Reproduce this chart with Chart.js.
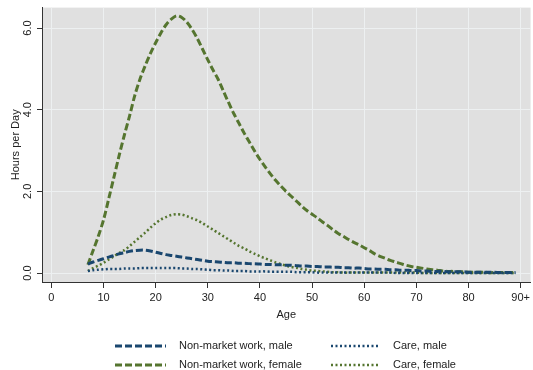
<!DOCTYPE html>
<html>
<head>
<meta charset="utf-8">
<script src="https://cdn.jsdelivr.net/npm/chart.js@4.4.1/dist/chart.umd.min.js"></script>
<style>
    html, body { margin: 0; padding: 0; background: #fff; }
    #contenedor { width: 533px; height: 370px; }
</style>
</head>
<body>
<div id="contenedor"><canvas id="grafico" width="533" height="370"></canvas></div>
<script>
// Edades (eje X)
var edades = [7, 8, 9, 10, 11, 12, 13, 14, 15, 16, 17, 18, 19, 20, 21, 22, 23, 24, 25, 26,
    27, 28, 29, 30, 31, 32, 33, 34, 35, 36, 37, 38, 39, 40, 41, 42, 43, 44, 45, 46,
    47, 48, 49, 50, 51, 52, 53, 54, 55, 56, 57, 58, 59, 60, 61, 62, 63, 64, 65, 66,
    67, 68, 69, 70, 71, 72, 73, 74, 75, 76, 77, 78, 79, 80, 81, 82, 83, 84, 85, 86,
    87, 88, 89];

var noMercadoHombre = [0.22, 0.27, 0.31, 0.35, 0.39, 0.43, 0.47, 0.50, 0.53, 0.55, 0.56, 0.56, 0.54, 0.51, 0.48, 0.45, 0.43, 0.41, 0.39, 0.37,
    0.35, 0.33, 0.31, 0.29, 0.28, 0.27, 0.26, 0.25, 0.25, 0.24, 0.24, 0.23, 0.23, 0.22, 0.21, 0.21, 0.20, 0.20, 0.19, 0.19,
    0.18, 0.17, 0.17, 0.16, 0.16, 0.15, 0.15, 0.14, 0.14, 0.13, 0.13, 0.12, 0.12, 0.11, 0.10, 0.10, 0.09, 0.09, 0.08, 0.08,
    0.07, 0.07, 0.06, 0.06, 0.05, 0.05, 0.04, 0.04, 0.04, 0.03, 0.03, 0.03, 0.03, 0.02, 0.02, 0.02, 0.02, 0.02, 0.02, 0.01,
    0.01, 0.01, 0.01];

var cuidadoHombre = [0.05, 0.07, 0.08, 0.09, 0.10, 0.10, 0.10, 0.11, 0.11, 0.11, 0.12, 0.12, 0.12, 0.12, 0.12, 0.12, 0.12, 0.12, 0.11, 0.11,
    0.10, 0.10, 0.09, 0.08, 0.07, 0.07, 0.06, 0.06, 0.05, 0.05, 0.05, 0.04, 0.04, 0.04, 0.04, 0.03, 0.03, 0.03, 0.03, 0.03,
    0.02, 0.02, 0.02, 0.02, 0.01, 0.01, 0.01, 0.01, 0.01, 0.01, 0.01, 0.01, 0.01, 0.01, 0.01, 0.01, 0.01, 0.01, 0.01, 0.00,
    0.00, 0.00, 0.00, 0.00, 0.00, 0.00, 0.00, 0.00, 0.00, 0.00, 0.00, 0.00, 0.00, 0.00, 0.00, 0.00, 0.00, 0.00, 0.00, 0.00,
    0.00, 0.00, 0.00];

var noMercadoMujer = [0.20, 0.55, 0.90, 1.30, 1.82, 2.35, 2.88, 3.38, 3.85, 4.35, 4.75, 5.08, 5.38, 5.64, 5.88, 6.08, 6.22, 6.30, 6.26, 6.14,
    5.96, 5.74, 5.48, 5.22, 4.97, 4.74, 4.45, 4.17, 3.90, 3.66, 3.42, 3.20, 2.98, 2.78, 2.60, 2.43, 2.27, 2.13, 2.00, 1.88,
    1.76, 1.64, 1.53, 1.44, 1.35, 1.25, 1.16, 1.06, 0.97, 0.90, 0.82, 0.75, 0.69, 0.62, 0.55, 0.47, 0.41, 0.36, 0.31, 0.27,
    0.23, 0.19, 0.16, 0.14, 0.12, 0.10, 0.08, 0.07, 0.05, 0.04, 0.04, 0.03, 0.03, 0.02, 0.02, 0.02, 0.02, 0.01, 0.01, 0.01,
    0.01, 0.01, 0.01];

var cuidadoMujer = [0.05, 0.12, 0.18, 0.25, 0.33, 0.41, 0.49, 0.56, 0.66, 0.77, 0.88, 0.99, 1.11, 1.22, 1.31, 1.37, 1.42, 1.44, 1.43, 1.39,
    1.34, 1.29, 1.22, 1.14, 1.06, 0.98, 0.90, 0.82, 0.74, 0.66, 0.60, 0.53, 0.47, 0.41, 0.36, 0.31, 0.26, 0.22, 0.18, 0.15,
    0.13, 0.10, 0.08, 0.06, 0.05, 0.04, 0.03, 0.02, 0.02, 0.01, 0.01, 0.01, 0.01, 0.01, 0.01, 0.01, 0.01, 0.01, 0.01, 0.01,
    0.01, 0.01, 0.01, 0.01, 0.00, 0.00, 0.00, 0.00, 0.00, 0.00, 0.00, 0.00, 0.00, 0.00, 0.00, 0.00, 0.00, 0.00, 0.00, 0.00,
    0.00, 0.00, 0.00];

var ticksX = [0, 10, 20, 30, 40, 50, 60, 70, 80, 90];
var etiquetasX = ['0', '10', '20', '30', '40', '50', '60', '70', '80', '90+'];
var ticksY = [0, 2, 4, 6];
var etiquetasY = ['0.0', '2.0', '4.0', '6.0'];

var azul = '#1a476f';
var verde = '#55752f';

function puntos(valores) {
    return edades.map(function(edad, i) { return { x: edad, y: valores[i] }; });
}

// fondo gris del area de dibujo
var fondoGris = {
    id: 'fondoGris',
    beforeDraw: function(chart) {
        var a = chart.chartArea;
        var ctx = chart.ctx;
        ctx.save();
        ctx.fillStyle = '#e0e0e0';
        ctx.fillRect(a.left, a.top, a.right - a.left, a.bottom - a.top);
        ctx.restore();
    }
};

// leyenda en dos columnas, estilo Stata
var leyenda = {
    id: 'leyenda',
    afterDraw: function(chart) {
        var ctx = chart.ctx;
        var sitios = [[115, 166, 179, 346], [331, 378, 393, 346], [115, 166, 179, 365], [331, 378, 393, 365]];
        chart.data.datasets.forEach(function(ds, i) {
            var s = sitios[i];
            ctx.save();
            ctx.strokeStyle = ds.borderColor;
            ctx.lineWidth = ds.borderWidth;
            ctx.setLineDash(ds.borderDash);
            ctx.beginPath();
            ctx.moveTo(s[0], s[3]);
            ctx.lineTo(s[1], s[3]);
            ctx.stroke();
            ctx.setLineDash([]);
            ctx.fillStyle = '#222';
            ctx.font = '11px "Liberation Sans", Arial, sans-serif';
            ctx.textBaseline = 'middle';
            ctx.fillText(ds.label, s[2], s[3]);
            ctx.restore();
        });
    }
};

Chart.defaults.font.family = '"Liberation Sans", Arial, sans-serif';
Chart.defaults.font.size = 11;
Chart.defaults.color = '#222';

new Chart(document.getElementById('grafico'), {
    type: 'line',
    data: {
        datasets: [
            { label: 'Non-market work, male', data: puntos(noMercadoHombre), borderColor: azul, borderWidth: 3, borderDash: [7, 3] },
            { label: 'Care, male', data: puntos(cuidadoHombre), borderColor: azul, borderWidth: 2.5, borderDash: [2, 2.5] },
            { label: 'Non-market work, female', data: puntos(noMercadoMujer), borderColor: verde, borderWidth: 3, borderDash: [7, 3] },
            { label: 'Care, female', data: puntos(cuidadoMujer), borderColor: verde, borderWidth: 2.5, borderDash: [2, 2.5] }
        ]
    },
    options: {
        responsive: false,
        animation: false,
        layout: { padding: { top: 7, left: 0, right: 0, bottom: 0 } },
        elements: {
            point: { radius: 0 },
            line: { tension: 0.3, fill: false }
        },
        plugins: {
            legend: { display: false },
            tooltip: { enabled: false }
        },
        scales: {
            x: {
                type: 'linear',
                min: -1.8,
                max: 91.9,
                afterBuildTicks: function(s) { s.ticks = ticksX.map(function(v) { return { value: v }; }); },
                afterFit: function(s) { s.height = 88; },
                ticks: {
                    padding: 3,
                    maxRotation: 0,
                    autoSkip: false,
                    callback: function(v) { return etiquetasX[ticksX.indexOf(v)]; }
                },
                grid: { color: '#edf0f1', tickColor: '#333', tickLength: 6 },
                border: { color: '#333' },
                title: { display: true, text: 'Age', padding: { top: 0, bottom: 48 } }
            },
            y: {
                min: -0.22,
                max: 6.5,
                afterBuildTicks: function(s) { s.ticks = ticksY.map(function(v) { return { value: v }; }); },
                afterFit: function(s) { s.width = 42; },
                ticks: {
                    minRotation: 90,
                    maxRotation: 90,
                    crossAlign: 'center',
                    padding: 1,
                    callback: function(v) { return etiquetasY[ticksY.indexOf(v)]; }
                },
                grid: { color: '#edf0f1', tickColor: '#333', tickLength: 5 },
                border: { color: '#333' },
                title: { display: true, text: 'Hours per Day', padding: { top: 9, bottom: 0 } }
            }
        }
    },
    plugins: [fondoGris, leyenda]
});
</script>
</body>
</html>
